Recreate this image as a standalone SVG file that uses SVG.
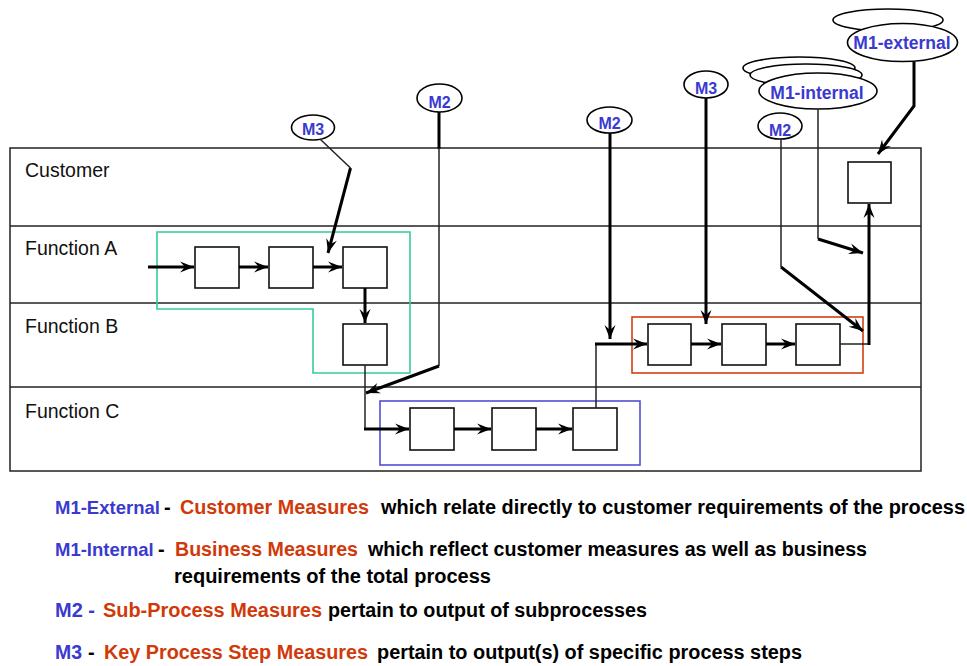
<svg xmlns="http://www.w3.org/2000/svg" width="967" height="666" viewBox="0 0 967 666">
  <style>
    .lane { fill: none; stroke: #222; stroke-width: 1.5; }
    .lbl { font-family: "Liberation Sans", Arial, sans-serif; font-size: 19.5px; fill: #111; }
    .box { fill: #fff; stroke: #111; stroke-width: 1.6; }
    .ell { fill: #fff; stroke: #000; stroke-width: 1.6; }
    .mtxt { font-family: "Liberation Sans", Arial, sans-serif; font-weight: bold; fill: #3a3ad0; text-anchor: middle; }
    .thick { fill: none; stroke: #000; stroke-width: 3; }
    .thin { fill: none; stroke: #222; stroke-width: 1.5; }
    .arr { marker-end: url(#head); }
    .leg { font-family: "Liberation Sans", Arial, sans-serif; font-weight: bold; font-size: 20px; }
    .b { fill: #3a3ad0; }
    .r { fill: #d03a0a; }
    .k { fill: #000; }
    .sm { font-size: 18.5px; }
  </style>
  <defs>
    <marker id="head" markerUnits="userSpaceOnUse" markerWidth="16" markerHeight="12" viewBox="-14 -6 15 12" refX="0" refY="0" orient="auto">
      <path d="M0,0 L-14,-5.5 L-9,0 L-14,5.5 Z" fill="#000"/>
    </marker>
  </defs>

  <!-- swim lanes -->
  <g id="lanes">
    <rect class="lane" x="10" y="148" width="911" height="323"/>
    <line class="lane" x1="10" y1="226" x2="921" y2="226"/>
    <line class="lane" x1="10" y1="303" x2="921" y2="303"/>
    <line class="lane" x1="10" y1="387" x2="921" y2="387"/>
    <text class="lbl" x="25" y="177">Customer</text>
    <text class="lbl" x="25" y="255">Function A</text>
    <text class="lbl" x="25" y="333">Function B</text>
    <text class="lbl" x="25" y="418">Function C</text>
  </g>

  <!-- sub-process outlines -->
  <g id="subprocess-a">
    <path d="M157,232 H410 V373 H313 V309 H157 Z" fill="none" stroke="#33cc99" stroke-width="1.6"/>
  </g>
  <g id="subprocess-b">
    <rect x="632" y="317" width="231" height="56" fill="none" stroke="#d04010" stroke-width="1.6"/>
  </g>
  <g id="subprocess-c">
    <rect x="380" y="401" width="260" height="64" fill="none" stroke="#5050d0" stroke-width="1.6"/>
  </g>

  <!-- process steps -->
  <g id="step-a1"><rect class="box" x="195" y="247" width="44" height="41"/></g>
  <g id="step-a2"><rect class="box" x="269" y="247" width="44" height="41"/></g>
  <g id="step-a3"><rect class="box" x="343" y="247" width="44" height="41"/></g>
  <g id="step-b1"><rect class="box" x="343" y="324" width="44" height="41"/></g>
  <g id="step-c1"><rect class="box" x="410" y="408" width="44" height="42"/></g>
  <g id="step-c2"><rect class="box" x="492" y="408" width="44" height="42"/></g>
  <g id="step-c3"><rect class="box" x="573" y="408" width="44" height="42"/></g>
  <g id="step-d1"><rect class="box" x="648" y="324" width="43" height="41"/></g>
  <g id="step-d2"><rect class="box" x="722" y="324" width="44" height="41"/></g>
  <g id="step-d3"><rect class="box" x="796" y="324" width="44" height="41"/></g>
  <g id="step-customer"><rect class="box" x="848" y="162" width="43" height="41"/></g>

  <!-- measure bubbles -->
  <g id="m3-left">
    <ellipse class="ell" cx="313" cy="127.5" rx="21.5" ry="12.5"/>
    <text class="mtxt" x="313" y="135" font-size="16">M3</text>
  </g>
  <g id="m2-left">
    <ellipse class="ell" cx="439.5" cy="98" rx="22.5" ry="14"/>
    <text class="mtxt" x="439.5" y="107.5" font-size="16">M2</text>
  </g>
  <g id="m2-mid">
    <ellipse class="ell" cx="609.5" cy="120" rx="22.5" ry="13"/>
    <text class="mtxt" x="609.5" y="128.5" font-size="16">M2</text>
  </g>
  <g id="m3-right">
    <ellipse class="ell" cx="706" cy="84.5" rx="22" ry="13.5"/>
    <text class="mtxt" x="706" y="94" font-size="16">M3</text>
  </g>
  <g id="m2-right">
    <ellipse class="ell" cx="780" cy="126" rx="22" ry="13"/>
    <text class="mtxt" x="780" y="136" font-size="16">M2</text>
  </g>
  <g id="m1-internal">
    <ellipse class="ell" cx="799" cy="68" rx="56" ry="11"/>
    <ellipse class="ell" cx="806" cy="75" rx="56" ry="11"/>
    <ellipse class="ell" cx="818" cy="91" rx="59" ry="18"/>
    <text class="mtxt" x="817" y="99" font-size="17.5">M1-internal</text>
  </g>
  <g id="m1-external">
    <ellipse class="ell" cx="888" cy="20" rx="55" ry="11"/>
    <ellipse class="ell" cx="902.5" cy="42.5" rx="55" ry="19"/>
    <text class="mtxt" x="902" y="48.5" font-size="17.5">M1-external</text>
  </g>

  <!-- connectors -->
  <g id="connectors">
    <!-- main flow -->
    <line class="thick arr" x1="148" y1="267" x2="194" y2="267"/>
    <line class="thick arr" x1="239" y1="267" x2="268" y2="267"/>
    <line class="thick arr" x1="313" y1="267" x2="342" y2="267"/>
    <line class="thick arr" x1="365" y1="288" x2="365" y2="323"/>
    <line class="thin" x1="365" y1="365" x2="365" y2="429"/>
    <line class="thick arr" x1="364" y1="429" x2="409" y2="429"/>
    <line class="thick arr" x1="454" y1="429" x2="491" y2="429"/>
    <line class="thick arr" x1="536" y1="429" x2="572" y2="429"/>
    <line class="thin" x1="596" y1="408" x2="596" y2="344"/>
    <line class="thick arr" x1="595" y1="344" x2="647" y2="344"/>
    <line class="thick arr" x1="691" y1="344" x2="721" y2="344"/>
    <line class="thick arr" x1="766" y1="344" x2="795" y2="344"/>
    <polyline class="thin" points="840,344 869,344"/>
    <line class="thick arr" x1="869" y1="345" x2="869" y2="204"/>
    <!-- measurement links -->
    <line class="thin" x1="320" y1="139" x2="350.5" y2="168"/>
    <line class="thick arr" x1="350.5" y1="168" x2="328" y2="253"/>
    <line class="thick" x1="439" y1="112" x2="439" y2="149"/>
    <line class="thin" x1="439" y1="148" x2="439" y2="366"/>
    <line class="thick arr" x1="439" y1="366" x2="366" y2="393"/>
    <line class="thick arr" x1="610" y1="133" x2="610" y2="339"/>
    <line class="thick arr" x1="706" y1="98" x2="706" y2="324" stroke-width="4"/>
    <line class="thin" x1="781" y1="139" x2="781" y2="267"/>
    <line class="thick arr" x1="781" y1="267" x2="863" y2="331"/>
    <line class="thin" x1="818" y1="109" x2="818" y2="239"/>
    <line class="thick arr" x1="818" y1="239" x2="863" y2="253"/>
    <polyline class="thick arr" points="914,62 914,106 878,154"/>
  </g>

  <!-- legend -->
  <g id="legend" class="leg">
    <text class="b sm" x="55" y="514">M1-External</text>
    <text class="k" x="164" y="514">-</text>
    <text class="r" x="180" y="514" textLength="189" lengthAdjust="spacingAndGlyphs">Customer Measures</text>
    <text class="k" x="381" y="514" textLength="584" lengthAdjust="spacingAndGlyphs">which relate directly to customer requirements of the process</text>

    <text class="b sm" x="55" y="556">M1-Internal</text>
    <text class="k" x="158" y="556">-</text>
    <text class="r" x="175" y="556" textLength="183" lengthAdjust="spacingAndGlyphs">Business Measures</text>
    <text class="k" x="368" y="556" textLength="499" lengthAdjust="spacingAndGlyphs">which reflect customer measures as well as business</text>
    <text class="k" x="174" y="583" textLength="317" lengthAdjust="spacingAndGlyphs">requirements of the total process</text>

    <text class="b" x="55" y="617" textLength="40" lengthAdjust="spacingAndGlyphs">M2 -</text>
    <text class="r" x="103" y="617" textLength="219" lengthAdjust="spacingAndGlyphs">Sub-Process Measures</text>
    <text class="k" x="328" y="617" textLength="319" lengthAdjust="spacingAndGlyphs">pertain to output of subprocesses</text>

    <text class="b" x="55" y="659" textLength="27" lengthAdjust="spacingAndGlyphs">M3</text>
    <text class="k" x="88" y="659">-</text>
    <text class="r" x="104" y="659" textLength="264" lengthAdjust="spacingAndGlyphs">Key Process Step Measures</text>
    <text class="k" x="377" y="659" textLength="425" lengthAdjust="spacingAndGlyphs">pertain to output(s) of specific process steps</text>
  </g>
</svg>
